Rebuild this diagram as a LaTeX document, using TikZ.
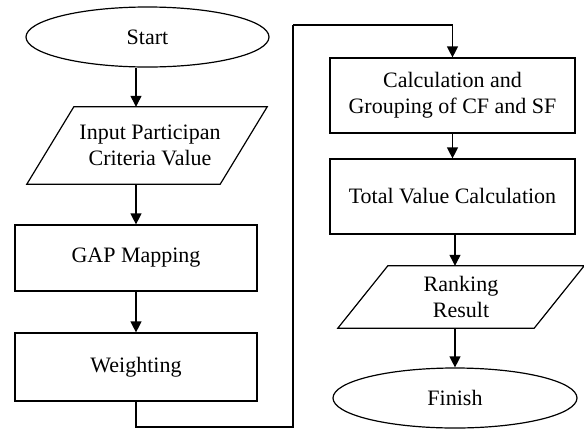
\documentclass[tikz,border=0pt]{standalone}
\usepackage{fontspec}
\setmainfont{Liberation Serif}
\usetikzlibrary{shapes.geometric,arrows.meta,calc}
\begin{document}
\begin{tikzpicture}[x=1pt,y=-1pt,
  every node/.style={font=\fontsize{22}{26}\selectfont, align=center, inner sep=0pt},
  terminal/.style={draw, ellipse, line width=1.2pt, minimum width=243pt, minimum height=60pt},
  procbox/.style={draw, rectangle, line width=1.2pt},
  iobox/.style={rectangle},
  para/.style={line width=1.2pt},
  arr/.style={line width=1.2pt, -{Triangle[length=11pt,width=11pt]}},
  conn/.style={line width=1.2pt}]
\useasboundingbox (0,0) rectangle (584,432);
% left column
\node[terminal] (start) at (147.5,37) {Start};
\node[iobox, minimum width=193pt, minimum height=77pt] (inp) at (147,145.5) {\hspace*{6pt}Input Participan\\\hspace*{6pt}Criteria Value};
\draw[para] ($(inp.north west)+(23.5,0)$) -- ($(inp.north east)+(23.5,0)$) -- ($(inp.south east)+(-23.5,0)$) -- ($(inp.south west)+(-23.5,0)$) -- cycle;
\node[procbox, minimum width=242pt, minimum height=66pt] (gap) at (136,258) {GAP Mapping};
\node[procbox, minimum width=242pt, minimum height=68pt] (weight) at (136,367) {Weighting};
% right column
\node[procbox, minimum width=245pt, minimum height=75pt] (calc) at (452.5,95.5) {Calculation and\\Grouping of CF and SF};
\node[procbox, minimum width=245pt, minimum height=75pt] (total) at (452.5,196.5) {Total Value Calculation};
\node[iobox, minimum width=196pt, minimum height=62pt] (rank) at (461,297) {Ranking\\Result};
\draw[para] ($(rank.north west)+(25,0)$) -- ($(rank.north east)+(25,0)$) -- ($(rank.south east)+(-25,0)$) -- ($(rank.south west)+(-25,0)$) -- cycle;
\node[terminal, minimum width=244pt] (finish) at (455,398) {Finish};
% connectors
\coordinate (c1) at (293,427);
\coordinate (c2) at (293,25);
\draw[arr] (gap.north |- start.south) -- (gap.north |- inp.north);
\draw[arr] (gap.north |- inp.south) -- (gap.north);
\draw[arr] (gap.south) -- (weight.north);
\draw[conn] (weight.south) |- (c1) -- (c2);
\draw[arr] (c2) -| (calc.north);
\draw[arr] (calc.south) -- (total.north);
\draw[arr] (finish.north |- total.south) -- (finish.north |- rank.north);
\draw[arr] (finish.north |- rank.south) -- (finish.north);
\end{tikzpicture}
\end{document}
